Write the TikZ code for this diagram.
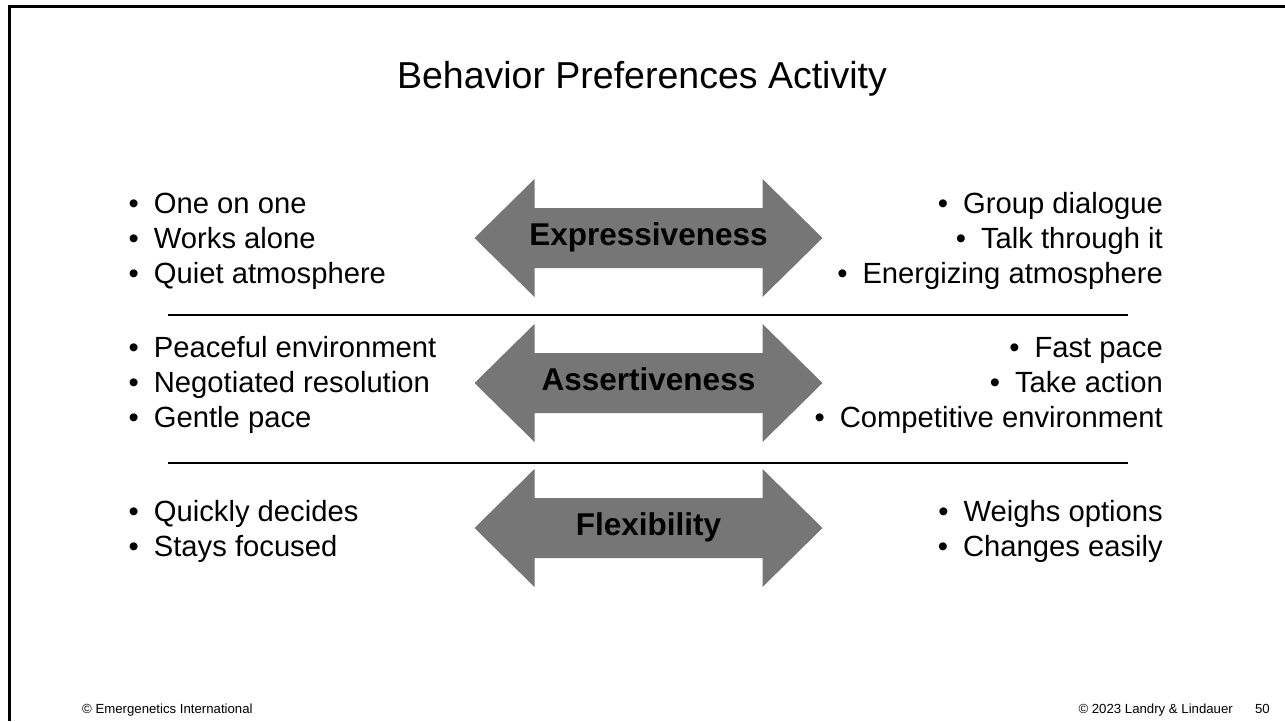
\documentclass[tikz,border=0pt]{standalone}
\usepackage{fontspec}
\setmainfont{Liberation Sans}
\usetikzlibrary{positioning,calc}
\definecolor{arrowgray}{RGB}{118,118,118}
\newcommand{\itm}[1]{\textbullet\hspace{15pt}#1}
\newcommand{\bigarrow}[1]{%
  \fill[arrowgray] ([shift={(-174,0)}]#1) -- ([shift={(-114,-59)}]#1) -- ([shift={(-114,-30)}]#1)
    -- ([shift={(114,-30)}]#1) -- ([shift={(114,-59)}]#1) -- ([shift={(174,0)}]#1)
    -- ([shift={(114,59)}]#1) -- ([shift={(114,30)}]#1) -- ([shift={(-114,30)}]#1)
    -- ([shift={(-114,59)}]#1) -- cycle;}

\begin{document}
\begin{tikzpicture}[x=1pt, y=-1pt]
\tikzstyle{title}=[inner sep=0pt, anchor=base, font=\fontsize{37.5}{44}\selectfont]
\tikzstyle{lefttext}=[inner sep=0pt, anchor=base west, font=\fontsize{29.2}{35}\selectfont]
\tikzstyle{righttext}=[lefttext, anchor=base east]
\tikzstyle{lbl}=[inner sep=0pt, text height=22pt, text depth=8pt, font=\bfseries\fontsize{31.5}{36}\selectfont]
\tikzstyle{footer}=[inner sep=0pt, font=\fontsize{13.2}{15}\selectfont]
\tikzstyle{sepline}=[line width=2pt]

  \useasboundingbox (0,0) rectangle (1285,721);
  \draw[line width=3pt] (9.5,721) -- (9.5,6) -- (1285,6);

  \node[title] (title) at (642,88) {Behavior Preferences Activity};

  % arrows
  \coordinate (expr)   at (648.5,238);
  \coordinate (assert) at (648.5,383);
  \coordinate (flex)   at (648.5,528);
  \bigarrow{expr}
  \bigarrow{assert}
  \bigarrow{flex}
  \node[lbl] (exprlbl)   at (expr)   {Expressiveness};
  \node[lbl] (assertlbl) at (assert) {Assertiveness};
  \node[lbl] (flexlbl)   at (flex)   {Flexibility};

  % expressiveness
  \node[lefttext] (one) at (128.5,213) {\itm{One on one}};
  \node[lefttext, below=35pt of one.base west, anchor=base west]     (works) {\itm{Works alone}};
  \node[lefttext, below=35pt of works.base west, anchor=base west]   (quiet) {\itm{Quiet atmosphere}};

  \node[righttext] (group) at (1163,213) {\itm{Group dialogue}\hspace{9pt}};
  \node[righttext, below=35pt of group.base east, anchor=base east]  (talk)  {\itm{Talk through it}};
  \node[righttext, below=35pt of talk.base east, anchor=base east]   (energ) {\itm{Energizing atmosphere}};

  \draw[sepline] (168,315) -- (1128,315);

  % assertiveness
  \node[lefttext] (peace) at (128.5,357.5) {\itm{Peaceful environment}};
  \node[lefttext, below=35pt of peace.base west, anchor=base west]   (negot) {\itm{Negotiated resolution}};
  \node[lefttext, below=35pt of negot.base west, anchor=base west]   (gentle) {\itm{Gentle pace}};

  \node[righttext] (fast) at (1163,357.5) {\itm{Fast pace}};
  \node[righttext, below=35pt of fast.base east, anchor=base east]   (take)  {\itm{Take action}};
  \node[righttext, below=35pt of take.base east, anchor=base east]   (compet) {\itm{Competitive environment}};

  \draw[sepline] (168,463) -- (1128,463);

  % flexibility
  \node[lefttext] (quick) at (128.5,521) {\itm{Quickly decides}};
  \node[lefttext, below=35pt of quick.base west, anchor=base west]   (stays) {\itm{Stays focused}};

  \node[righttext] (weighs) at (1163,521) {\itm{Weighs options}};
  \node[righttext, below=35pt of weighs.base east, anchor=base east] (changes) {\itm{Changes easily}};

  % footer
  \node[footer, anchor=base west] (copyl) at (82,713)   {© Emergenetics International};
  \node[footer, anchor=base east] (copyr) at (1233,713) {© 2023 Landry \& Lindauer};
  \node[footer, anchor=base east] (page)  at (1270,713) {50};

\end{tikzpicture}
\end{document}
